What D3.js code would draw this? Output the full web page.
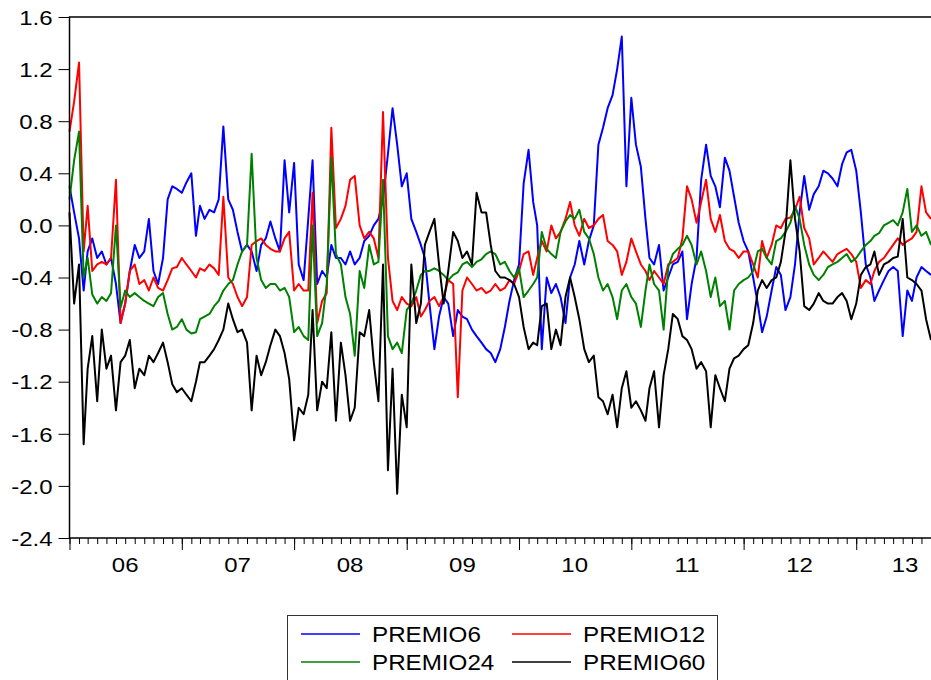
<!DOCTYPE html>
<html>
<head>
<meta charset="utf-8">
<script src="https://cdn.jsdelivr.net/npm/d3@7"></script>
<style>
  body { margin: 0; background: #fff; }
  text { font-family: "Liberation Sans", Arial, sans-serif; fill: #000; }
</style>
</head>
<body>
<div id="chart"></div>
<script>
const seriesNames = ["PREMIO6", "PREMIO12", "PREMIO24", "PREMIO60"];
const yearLabels = ["06", "07", "08", "09", "10", "11", "12", "13"];
const yTicks = [-2.4, -2.0, -1.6, -1.2, -0.8, -0.4, 0.0, 0.4, 0.8, 1.2, 1.6];

// readings every half month (1st and 16th), Jan 2006 - Sep 2013
const premio6 = [
  0.3, 0.1, -0.1, -0.5, -0.2, -0.1, -0.25, -0.2, -0.3, -0.25, -0.45, -0.75, -0.6, -0.35, -0.15, -0.25,
  -0.2, 0.05, -0.35, -0.45, -0.25, 0.2, 0.3, 0.28, 0.25, 0.33, 0.4, -0.08, 0.15, 0.05, 0.12, 0.1,
  0.2, 0.76, 0.2, 0.12, -0.05, -0.2, -0.15, -0.2, -0.35, -0.15, -0.1, 0.03, -0.1, -0.2, 0.5,
  0.1, 0.48, -0.3, -0.42, 0.05, 0.5, -0.45, -0.35, -0.4, -0.15, -0.25, -0.25, -0.3, -0.2, -0.3, -0.25,
  -0.12, -0.08, 0.0, 0.05, 0.2, 0.55, 0.9, 0.62, 0.3, 0.4, 0.05, -0.05, -0.15, -0.25, -0.6, -0.95,
  -0.7, -0.55, -0.6, -0.85, -0.65, -0.7, -0.72, -0.8, -0.85, -0.9, -0.95, -0.98, -1.05, -0.95,
  -0.78, -0.58, -0.42, -0.3, 0.32, 0.58, 0.18, 0.0, -0.95, -0.4, -0.52, -0.45, -0.55, -0.75, -0.4, -0.3,
  -0.12, -0.3, -0.12, 0.0, 0.62, 0.75, 0.9, 1.0, 1.2, 1.45, 0.3, 0.98, 0.62, 0.45, 0.05, -0.25,
  -0.3, -0.15, -0.5, -0.4, -0.3, -0.28, -0.2, -0.72, -0.45, -0.25, 0.35, 0.62, 0.38, 0.3,
  0.14, 0.52, 0.42, 0.22, 0.02, -0.12, -0.2, -0.4, -0.6, -0.82, -0.7, -0.5, -0.32, -0.38, -0.65, -0.55,
  -0.3, 0.1, 0.38, 0.12, 0.24, 0.3, 0.42, 0.4, 0.36, 0.3, 0.47, 0.56, 0.58, 0.42, 0.1, -0.3,
  -0.4, -0.58, -0.5, -0.42, -0.35, -0.32, -0.35, -0.85, -0.5, -0.58, -0.4, -0.32, -0.35, -0.38
];
const premio12 = [
  0.72, 0.95, 1.25, -0.2, 0.15, -0.35, -0.3, -0.28, -0.3, -0.25, 0.35, -0.75, -0.6, -0.35, -0.3, -0.45,
  -0.42, -0.5, -0.4, -0.48, -0.5, -0.42, -0.33, -0.32, -0.25, -0.3, -0.35, -0.4, -0.33, -0.35, -0.3, -0.33,
  -0.38, 0.22, -0.4, -0.45, -0.55, -0.62, -0.55, -0.15, -0.12, -0.1, -0.15, -0.18, -0.2, -0.2, -0.1,
  -0.05, -0.5, -0.45, -0.5, -0.5, 0.25, -0.75, -0.58, -0.52, 0.75, -0.02, 0.05, 0.15, 0.35, 0.38, 0.0,
  -0.1, -0.05, -0.1, -0.25, 0.87, -0.25, -0.58, -0.65, -0.55, -0.6, -0.62, -0.55, -0.7, -0.65, -0.58, -0.55,
  -0.62, -0.55, -0.42, -0.45, -1.32, -0.5, -0.4, -0.45, -0.5, -0.48, -0.52, -0.5, -0.45, -0.5,
  -0.48, -0.42, -0.45, -0.35, -0.22, -0.2, -0.38, -0.25, -0.12, -0.2, 0.0, -0.1, -0.05, 0.05, 0.18, 0.0,
  -0.08, 0.05, -0.02, 0.0, 0.05, 0.08, -0.12, -0.15, -0.2, -0.38, -0.28, -0.1, -0.2, -0.3, -0.35, -0.42,
  -0.35, -0.4, -0.45, -0.3, -0.28, -0.25, -0.1, 0.3, 0.2, 0.02, 0.18, 0.35, 0.05, -0.05,
  0.08, -0.12, -0.18, -0.2, -0.25, -0.2, -0.2, -0.3, -0.4, -0.12, -0.25, -0.15, 0.0, -0.02, 0.05, 0.06,
  0.12, 0.22, -0.02, -0.1, -0.3, -0.25, -0.2, -0.24, -0.28, -0.22, -0.2, -0.18, -0.22, -0.28, -0.48, -0.42,
  -0.45, -0.35, -0.28, -0.25, -0.2, -0.15, -0.1, -0.15, -0.12, -0.1, -0.05, 0.3, 0.1, 0.05
];
const premio24 = [
  0.2, 0.5, 0.72, -0.4, -0.25, -0.53, -0.6, -0.55, -0.58, -0.52, 0.0, -0.63, -0.5, -0.55, -0.52, -0.55,
  -0.58, -0.6, -0.62, -0.55, -0.52, -0.68, -0.8, -0.78, -0.72, -0.8, -0.83, -0.82, -0.72, -0.7, -0.68, -0.62,
  -0.58, -0.5, -0.45, -0.42, -0.3, -0.2, -0.15, 0.55, -0.25, -0.42, -0.48, -0.45, -0.45, -0.5, -0.48,
  -0.55, -0.82, -0.78, -0.85, -0.88, 0.0, -0.85, -0.75, -0.45, 0.52, -0.22, -0.3, -0.55, -0.68, -1.0, -0.35,
  -0.48, -0.15, -0.3, -0.28, 0.35, -0.85, -0.95, -0.9, -0.98, -0.65, -0.6, -0.5, -0.38, -0.35, -0.35, -0.33,
  -0.35, -0.38, -0.42, -0.38, -0.36, -0.3, -0.28, -0.32, -0.28, -0.26, -0.22, -0.2, -0.22, -0.3,
  -0.28, -0.35, -0.4, -0.33, -0.55, -0.5, -0.45, -0.4, -0.05, -0.18, -0.22, -0.25, -0.05, 0.03, 0.08, 0.05,
  0.12, -0.05, -0.1, -0.22, -0.4, -0.5, -0.45, -0.55, -0.72, -0.5, -0.45, -0.55, -0.6, -0.78, -0.5, -0.3,
  -0.45, -0.5, -0.8, -0.32, -0.22, -0.18, -0.15, -0.08, -0.15, -0.3, -0.2, -0.35, -0.55, -0.4,
  -0.62, -0.58, -0.8, -0.5, -0.45, -0.42, -0.4, -0.35, -0.2, -0.18, -0.25, -0.3, -0.12, -0.1, -0.05, 0.02,
  0.15, 0.05, -0.15, -0.3, -0.38, -0.42, -0.38, -0.32, -0.3, -0.28, -0.25, -0.22, -0.28, -0.25, -0.2, -0.15,
  -0.12, -0.08, -0.06, 0.0, 0.02, 0.04, 0.0, 0.1, 0.28, -0.05, 0.0, -0.08, -0.05, -0.15
];
const premio60 = [
  0.1, -0.6, -0.3, -1.68, -1.1, -0.85, -1.35, -0.8, -1.1, -1.0, -1.42, -1.05, -1.0, -0.88, -1.25, -1.1,
  -1.15, -1.0, -1.05, -0.98, -0.9, -1.05, -1.22, -1.28, -1.25, -1.3, -1.35, -1.2, -1.05, -1.05, -1.0, -0.95,
  -0.88, -0.8, -0.6, -0.72, -0.82, -0.8, -0.9, -1.42, -1.0, -1.15, -1.05, -0.92, -0.8, -0.85, -0.98,
  -1.18, -1.65, -1.4, -1.45, -1.3, -0.65, -1.42, -1.2, -1.25, -0.82, -1.5, -0.9, -1.15, -1.5, -1.4, -0.82,
  -0.85, -0.65, -1.05, -1.35, -0.3, -1.88, -1.1, -2.06, -1.3, -1.55, -0.3, -0.75, -0.6, -0.15, -0.05, 0.05,
  -0.3, -0.6, -0.35, -0.05, -0.12, -0.25, -0.2, -0.3, 0.25, 0.1, 0.1, -0.15, -0.35, -0.4,
  -0.4, -0.42, -0.45, -0.55, -0.78, -0.95, -0.9, -0.92, -0.62, -0.6, -0.95, -0.8, -0.92, -0.55, -0.4, -0.55,
  -0.72, -0.95, -1.05, -1.0, -1.32, -1.35, -1.45, -1.3, -1.55, -1.25, -1.12, -1.4, -1.35, -1.42, -1.5, -1.25,
  -1.12, -1.55, -1.15, -0.95, -0.68, -0.72, -0.85, -0.88, -0.95, -1.1, -1.05, -1.12, -1.55, -1.15,
  -1.25, -1.35, -1.1, -1.02, -1.0, -0.95, -0.92, -0.75, -0.5, -0.42, -0.48, -0.42, -0.4, -0.28, -0.05, 0.5,
  0.05, -0.2, -0.62, -0.65, -0.6, -0.52, -0.58, -0.6, -0.6, -0.55, -0.52, -0.58, -0.72, -0.6, -0.38, -0.32,
  -0.3, -0.2, -0.38, -0.3, -0.28, -0.25, -0.24, 0.05, -0.4, -0.42, -0.45, -0.5, -0.72, -0.88
];

const dates = d3.range(premio6.length).map(i =>
  new Date(2006 + Math.floor(i / 24), Math.floor((i % 24) / 2), i % 2 ? 16 : 1));

const series = [
  { name: seriesNames[0], values: premio6, color: "#0000ff" },
  { name: seriesNames[1], values: premio12, color: "#ff0000" },
  { name: seriesNames[2], values: premio24, color: "#008000" },
  { name: seriesNames[3], values: premio60, color: "#000000" }
];

const chartWidth = 931, chartHeight = 680;
const plotLeft = 69.5, plotTop = 17, plotRight = 931, plotBottom = 538;
const sx = 1.2;   // the exported text is stretched sideways

const svg = d3.select("#chart").append("svg")
  .attr("width", chartWidth)
  .attr("height", chartHeight);

const xScale = d3.scaleTime()
  .domain([new Date(2006, 0, 1), new Date(2013, 8, 1)])
  .range([plotLeft, plotRight]);
const yScale = d3.scaleLinear()
  .domain([-2.4, 1.6])
  .range([plotBottom, plotTop]);

// lines
const line = d3.line()
  .x((d, i) => xScale(dates[i]))
  .y(d => yScale(d));

series.forEach(s => {
  svg.append("path")
    .datum(s.values)
    .attr("fill", "none")
    .attr("stroke", s.color)
    .attr("stroke-width", 2)
    .attr("stroke-linejoin", "round")
    .attr("d", line);
});

// frame
svg.append("rect")
  .attr("x", plotLeft).attr("y", plotTop)
  .attr("width", plotRight - plotLeft + 2).attr("height", plotBottom - plotTop)
  .attr("fill", "none").attr("stroke", "#000").attr("stroke-width", 1.5);

// y axis
const yAxis = svg.append("g")
  .attr("transform", `translate(${plotLeft},0)`)
  .call(d3.axisLeft(yScale).tickValues(yTicks).tickSize(11).tickFormat(d => d.toFixed(1)));
yAxis.select(".domain").remove();
yAxis.selectAll(".tick line").attr("stroke", "#000");
yAxis.selectAll(".tick text")
  .attr("x", -17 / sx)
  .attr("dy", "0.36em")
  .attr("transform", `scale(${sx},1)`)
  .style("font-size", "20px")
  .style("font-family", '"Liberation Sans", Arial, sans-serif');

// x axis: monthly minor ticks, yearly major ticks
const monthAxis = svg.append("g")
  .attr("transform", `translate(0,${plotBottom})`)
  .call(d3.axisBottom(xScale).ticks(d3.timeMonth.every(1)).tickSize(6).tickFormat(""));
monthAxis.select(".domain").remove();
const yearAxis = svg.append("g")
  .attr("transform", `translate(0,${plotBottom})`)
  .call(d3.axisBottom(xScale).ticks(d3.timeYear.every(1)).tickSize(12).tickFormat(""));
yearAxis.select(".domain").remove();
svg.selectAll(".tick line").attr("stroke", "#000");

svg.append("g")
  .selectAll("text")
  .data(yearLabels)
  .join("text")
  .attr("transform", (d, i) => {
    const cx = Math.min(xScale(new Date(2006 + i, 6, 1)), 905);
    return `translate(${cx},572) scale(${sx},1)`;
  })
  .attr("text-anchor", "middle")
  .style("font-size", "20px")
  .text(d => d);

// legend
const legend = svg.append("g");
legend.append("rect")
  .attr("x", 287.5).attr("y", 615.5)
  .attr("width", 430).attr("height", 80)
  .attr("fill", "none").attr("stroke", "#333").attr("stroke-width", 1);

const legendPos = [[301, 634], [512, 634], [301, 662], [512, 662]];
series.forEach((s, i) => {
  const [lx, ly] = legendPos[i];
  legend.append("line")
    .attr("x1", lx).attr("x2", lx + 59)
    .attr("y1", ly).attr("y2", ly)
    .attr("stroke", s.color).attr("stroke-width", 1.5);
  legend.append("text")
    .attr("transform", `translate(${lx + 71},${ly + 7.5}) scale(1.1,1)`)
    .style("font-size", "22px")
    .text(s.name);
});
</script>
</body>
</html>
